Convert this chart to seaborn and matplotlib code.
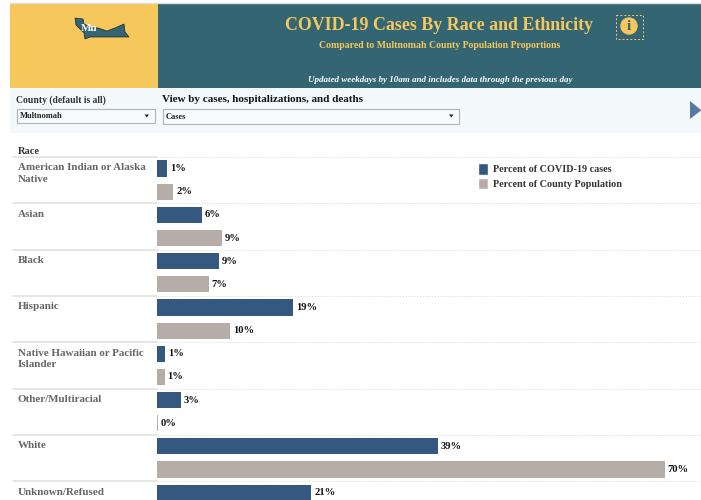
import numpy as np
import pandas as pd
import seaborn as sns
import matplotlib
matplotlib.use("Agg")
import matplotlib.pyplot as plt
from matplotlib.patches import Rectangle, Polygon, Circle
from matplotlib.lines import Line2D

races = ["American Indian or Alaska\nNative", "Asian", "Black", "Hispanic",
         "Native Hawaiian or Pacific\nIslander", "Other/Multiracial", "White", "Unknown/Refused"]
case_pct = [1.45, 6.2, 8.6, 18.8, 1.2, 3.4, 38.8, 21.3]
pop_pct = [2.3, 9.0, 7.2, 10.1, 1.1, 0.2, 70.0, np.nan]
series_names = ["Percent of COVID-19 cases", "Percent of County Population"]

sns.set_theme(style="white")
plt.rcParams['font.family'] = ['Liberation Serif', 'DejaVu Serif']

YEL, TEAL, PALE = "#F6C85C", "#336573", "#F3F9FA"
BLUE, TAUPE = "#34587F", "#B6ADA9"
W, H = 701, 500
fig = plt.figure(figsize=(W/100, H/100), dpi=100, facecolor="white")

bg = fig.add_axes([0, 0, 1, 1], zorder=0)
bg.set_xlim(0, W); bg.set_ylim(H, 0); bg.axis("off")
bg.add_patch(Rectangle((10, 3), 148, 85, fc=YEL, ec="none"))
bg.add_patch(Rectangle((158, 3), 543, 85, fc=TEAL, ec="none"))
bg.add_patch(Rectangle((10, 88), 691, 45, fc=PALE, ec="none"))
bg.plot([10, 701], [2.5, 2.5], color="#DDDDDD", lw=1)
bg.add_patch(Polygon([(75, 18), (83, 19), (84, 24), (90, 27), (98, 28), (107, 31), (115, 28),
                      (124, 24), (125, 32), (129, 37), (90, 37), (85, 39), (84, 33), (76, 25)],
                     fc=TEAL, ec="#222222", lw=0.5))
bg.text(81, 28.5, "Mu", color="white", fontsize=8, fontweight="bold", va="center")

bg.text(439, 26, "COVID-19 Cases By Race and Ethnicity", color=YEL, fontsize=12.9,
        fontweight="bold", ha="center", va="center")
bg.text(440, 45.5, "Compared to Multnomah County Population Proportions", color=YEL, fontsize=7,
        fontweight="bold", ha="center", va="center")
bg.text(440, 80.5, "Updated weekdays by 10am and includes data through the previous day", color="white",
        fontsize=6.45, fontweight="bold", style="italic", ha="center", va="center")
bg.add_patch(Rectangle((615.5, 14.5), 27.5, 24, fc="none", ec=YEL, lw=0.7, ls=(0, (2, 2))))
bg.add_patch(Circle((629, 26), 8.7, fc=YEL, ec="none"))
bg.text(629, 26, "i", color=TEAL, fontsize=11, fontweight="bold", ha="center", va="center")

bg.text(16, 100.5, "County (default is all)", color="#333333", fontsize=6.95, fontweight="bold", va="center")
bg.text(162, 99.5, "View by cases, hospitalizations, and deaths", color="#111111", fontsize=8.05,
        fontweight="bold", va="center")
for x0, x1, y0, y1, txt in [(17, 154.5, 108.5, 122.5, "Multnomah"), (162.5, 459, 109, 123.5, "Cases")]:
    bg.add_patch(Rectangle((x0, y0), x1 - x0, y1 - y0, fc="#F8FBFB", ec="#B4B8BA", lw=0.9))
    bg.text(x0 + 3, (y0 + y1) / 2 + 0.5, txt, color="#222222", fontsize=6, fontweight="bold", va="center")
    bg.add_patch(Polygon([(x1 - 10, 114.5), (x1 - 5.5, 114.5), (x1 - 7.75, 117.5)], fc="#222222", ec="none"))
bg.add_patch(Polygon([(690, 101), (701, 110), (701, 110.5), (690, 119)], fc="#5878A8", ec="none"))
bg.text(18, 151, "Race", color="#333333", fontsize=7.5, fontweight="bold", va="center")

df = pd.concat([
    pd.DataFrame({"Race": races, "Measure": series_names[0], "Percent": case_pct}),
    pd.DataFrame({"Race": races, "Measure": series_names[1], "Percent": pop_pct}),
]).dropna()

# chart axes: x from px 157 to right edge, rows 46.3 px from px 157 to bottom
AX_LEFT = 156.6
ax = fig.add_axes([AX_LEFT/W, 0, (W-AX_LEFT)/W, (H-157)/H], zorder=2)
ax.patch.set_alpha(0)
sns.barplot(data=df, y="Race", x="Percent", hue="Measure", order=races, hue_order=series_names,
            palette=[BLUE, TAUPE], width=1.0, gap=0.3, orient="h", ax=ax, legend=False,
            saturation=1, errorbar=None, linewidth=0)
ax.set_xlim(0, (W - AX_LEFT) / 7.26)
ax.set_ylim((H - 157) / 46.3 - 0.5, -0.5)
ax.set_xlabel(""); ax.set_ylabel("")
ax.set_xticks([]); ax.set_yticks([])
sns.despine(ax=ax, left=True, bottom=True, top=True, right=True)

for c in ax.containers:
    ax.bar_label(c, fmt=lambda v: f"{v:.0f}%", padding=2, fontsize=7.6, fontweight="bold", color="#111111")

for i, r in enumerate(races):
    ax.annotate(r, xy=(0, i - 0.5), xycoords=("data", "data"), xytext=(-138.6, -6.5),
                textcoords="offset pixels", ha="left", va="top", fontsize=7.9, fontweight="bold",
                color="#666666", linespacing=1.35, annotation_clip=False)
    y_px = 157 + i * 46.3
    ax.axhline(i - 0.5, color="#E2E2E2", lw=0.7, ls=(0, (1.5, 1.5)), clip_on=False)
    fig.add_artist(Line2D([13/W, 157/W], [1 - y_px/H]*2, color="#DEDEDE", lw=1.1))

handles = [Rectangle((0, 0), 1, 1, fc=BLUE), Rectangle((0, 0), 1, 1, fc=TAUPE)]
ax.legend(handles, series_names, loc="upper left", bbox_to_anchor=(475/W, 1 - 160/H),
          bbox_transform=fig.transFigure, frameon=False, handlelength=1.0, handleheight=1.4,
          handletextpad=0.45, labelspacing=0.3, borderpad=0.3, borderaxespad=0,
          prop={"size": 7.25, "weight": "bold"}, labelcolor="#333333")

fig.savefig("out.png", dpi=100)
